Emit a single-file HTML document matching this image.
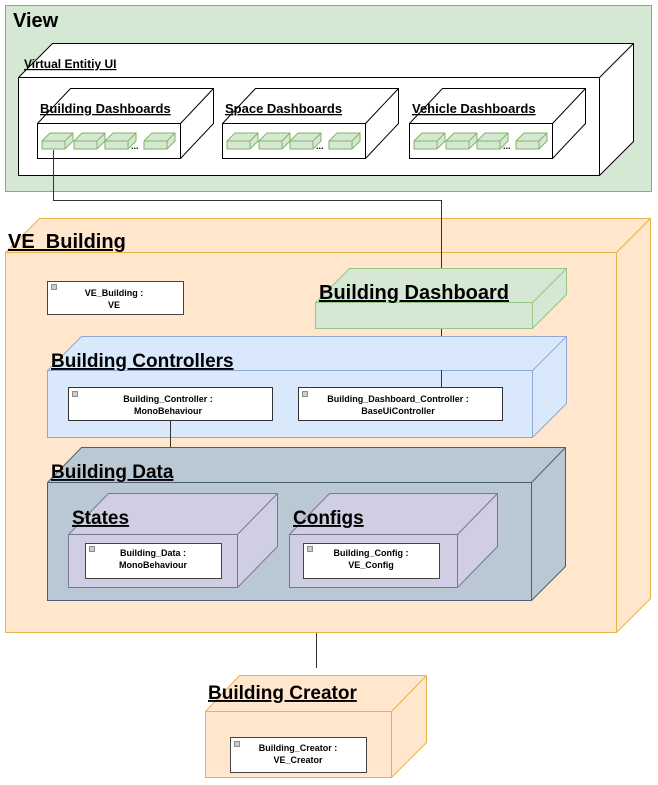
<!DOCTYPE html>
<html><head><meta charset="utf-8"><style>
html,body{margin:0;padding:0;background:#fff}
svg{display:block}
text{font-family:"Liberation Sans",Arial,sans-serif;font-weight:bold;fill:#000}
.t{text-decoration:underline}
</style></head><body>
<svg width="658" height="785" viewBox="0 0 658 785" xmlns="http://www.w3.org/2000/svg">
<defs>
<g id="cube">
<path d="M0,8 L8,0 L31,0 L31,8 L23,16 L0,16 Z" fill="#d5e8d4" stroke="#82b366" stroke-width="1"/>
<path d="M0,8 L23,8 L23,16 M23,8 L31,0" fill="none" stroke="#82b366" stroke-width="1"/>
</g>
</defs>
<rect x="5.5" y="5.5" width="646" height="186" fill="#d5e8d4" stroke="#82b366"/>
<text x="13" y="27" font-size="20">View</text>
<path d="M18.5,77.5 L52.5,43.5 L633.5,43.5 L633.5,141.5 L599.5,175.5 L18.5,175.5 Z" fill="#fff" stroke="#000"/>
<path d="M18.5,77.5 L599.5,77.5 L599.5,175.5 M599.5,77.5 L633.5,43.5" fill="none" stroke="#000"/>
<text x="24" y="68" font-size="12" class="t">Virtual Entitiy UI</text>
<g>
<path d="M37.5,123.5 L70.5,88.5 L213.5,88.5 L213.5,123.5 L180.5,158.5 L37.5,158.5 Z" fill="#fff" stroke="#000"/>
<path d="M37.5,123.5 L180.5,123.5 L180.5,158.5 M180.5,123.5 L213.5,88.5" fill="none" stroke="#000"/>
<text x="40" y="113" font-size="13" class="t">Building Dashboards</text>
<use href="#cube" x="42" y="133"/><use href="#cube" x="74" y="133"/><use href="#cube" x="105" y="133"/><use href="#cube" x="144" y="133"/>
<text x="131" y="149" font-size="9" font-weight="normal">...</text>
</g>
<g transform="translate(185,0)">
<path d="M37.5,123.5 L70.5,88.5 L213.5,88.5 L213.5,123.5 L180.5,158.5 L37.5,158.5 Z" fill="#fff" stroke="#000"/>
<path d="M37.5,123.5 L180.5,123.5 L180.5,158.5 M180.5,123.5 L213.5,88.5" fill="none" stroke="#000"/>
<text x="40" y="113" font-size="13" class="t">Space Dashboards</text>
<use href="#cube" x="42" y="133"/><use href="#cube" x="74" y="133"/><use href="#cube" x="105" y="133"/><use href="#cube" x="144" y="133"/>
<text x="131" y="149" font-size="9" font-weight="normal">...</text>
</g>
<g transform="translate(372,0)">
<path d="M37.5,123.5 L70.5,88.5 L213.5,88.5 L213.5,123.5 L180.5,158.5 L37.5,158.5 Z" fill="#fff" stroke="#000"/>
<path d="M37.5,123.5 L180.5,123.5 L180.5,158.5 M180.5,123.5 L213.5,88.5" fill="none" stroke="#000"/>
<text x="40" y="113" font-size="13" class="t">Vehicle Dashboards</text>
<use href="#cube" x="42" y="133"/><use href="#cube" x="74" y="133"/><use href="#cube" x="105" y="133"/><use href="#cube" x="144" y="133"/>
<text x="131" y="149" font-size="9" font-weight="normal">...</text>
</g>
<path d="M5.5,252.5 L39.5,218.5 L650.5,218.5 L650.5,598.5 L616.5,632.5 L5.5,632.5 Z" fill="#ffe6cc" stroke="#e8b34a"/>
<path d="M5.5,252.5 L616.5,252.5 L616.5,632.5 M616.5,252.5 L650.5,218.5" fill="none" stroke="#e8b34a"/>
<text x="8" y="248" font-size="20" class="t">VE_Building</text>
<path d="M53.5,150 L53.5,200.5 L441.5,200.5 L441.5,268 M441.5,328 L441.5,388 M170.5,420 L170.5,448 M316.5,633 L316.5,668" fill="none" stroke="#333"/>
<rect x="47.5" y="281.5" width="136" height="33" fill="#fff" stroke="#444"/>
<rect x="51.5" y="284.5" width="5" height="5" fill="#ccc" stroke="#666" stroke-width="0.7"/>
<text x="114" y="296" font-size="9" text-anchor="middle">VE_Building :</text>
<text x="114" y="308" font-size="9" text-anchor="middle">VE</text>
<path d="M315.5,302.5 L349.5,268.5 L566.5,268.5 L566.5,294.5 L532.5,328.5 L315.5,328.5 Z" fill="#d5e8d4" stroke="#97c487"/>
<path d="M315.5,302.5 L532.5,302.5 L532.5,328.5 M532.5,302.5 L566.5,268.5" fill="none" stroke="#97c487"/>
<text x="319" y="299" font-size="20" class="t">Building Dashboard</text>
<path d="M47.5,370.5 L81.5,336.5 L566.5,336.5 L566.5,403.5 L532.5,437.5 L47.5,437.5 Z" fill="#dae8fc" stroke="#8fa9d6"/>
<path d="M47.5,370.5 L532.5,370.5 L532.5,437.5 M532.5,370.5 L566.5,336.5" fill="none" stroke="#8fa9d6"/>
<text x="51" y="367" font-size="19" class="t">Building Controllers</text>
<line x1="441.5" y1="370" x2="441.5" y2="388" stroke="#333"/>
<rect x="68.5" y="387.5" width="204" height="33" fill="#fff" stroke="#333"/>
<rect x="72.5" y="391.5" width="5" height="5" fill="#ccc" stroke="#666" stroke-width="0.7"/>
<text x="168" y="402" font-size="9" text-anchor="middle">Building_Controller :</text>
<text x="168" y="414" font-size="9" text-anchor="middle">MonoBehaviour</text>
<rect x="298.5" y="387.5" width="204" height="33" fill="#fff" stroke="#333"/>
<rect x="302.5" y="391.5" width="5" height="5" fill="#ccc" stroke="#666" stroke-width="0.7"/>
<text x="398" y="402" font-size="9" text-anchor="middle">Building_Dashboard_Controller :</text>
<text x="398" y="414" font-size="9" text-anchor="middle">BaseUiController</text>
<line x1="170.5" y1="420" x2="170.5" y2="448" stroke="#333"/>
<path d="M47.5,482.5 L81.5,447.5 L565.5,447.5 L565.5,566.5 L531.5,600.5 L47.5,600.5 Z" fill="#bac8d3" stroke="#4a6070"/>
<path d="M47.5,482.5 L531.5,482.5 L531.5,600.5 M531.5,482.5 L565.5,447.5" fill="none" stroke="#4a6070"/>
<text x="51" y="478" font-size="19" class="t">Building Data</text>
<path d="M68.5,534.5 L108.5,493.5 L277.5,493.5 L277.5,546.5 L237.5,587.5 L68.5,587.5 Z" fill="#d0cee2" stroke="#7a7499"/>
<path d="M68.5,534.5 L237.5,534.5 L237.5,587.5 M237.5,534.5 L277.5,493.5" fill="none" stroke="#7a7499"/>
<text x="72" y="524" font-size="19" class="t">States</text>
<rect x="85.5" y="543.5" width="136" height="35" fill="#fff" stroke="#444"/>
<rect x="89.5" y="546.5" width="5" height="5" fill="#ccc" stroke="#666" stroke-width="0.7"/>
<text x="153" y="556" font-size="9" text-anchor="middle">Building_Data :</text>
<text x="153" y="568" font-size="9" text-anchor="middle">MonoBehaviour</text>
<path d="M289.5,534.5 L329.5,493.5 L497.5,493.5 L497.5,546.5 L457.5,587.5 L289.5,587.5 Z" fill="#d0cee2" stroke="#7a7499"/>
<path d="M289.5,534.5 L457.5,534.5 L457.5,587.5 M457.5,534.5 L497.5,493.5" fill="none" stroke="#7a7499"/>
<text x="293" y="524" font-size="19" class="t">Configs</text>
<rect x="303.5" y="543.5" width="136" height="35" fill="#fff" stroke="#444"/>
<rect x="307.5" y="546.5" width="5" height="5" fill="#ccc" stroke="#666" stroke-width="0.7"/>
<text x="371" y="556" font-size="9" text-anchor="middle">Building_Config :</text>
<text x="371" y="568" font-size="9" text-anchor="middle">VE_Config</text>
<path d="M205.5,711.5 L239.5,675.5 L426.5,675.5 L426.5,742.5 L391.5,777.5 L205.5,777.5 Z" fill="#ffe6cc" stroke="#e8b34a"/>
<path d="M205.5,711.5 L391.5,711.5 L391.5,777.5 M391.5,711.5 L426.5,675.5" fill="none" stroke="#e8b34a"/>
<text x="208" y="699" font-size="19" class="t">Building Creator</text>
<rect x="230.5" y="737.5" width="136" height="35" fill="#fff" stroke="#444"/>
<rect x="234.5" y="741.5" width="5" height="5" fill="#ccc" stroke="#666" stroke-width="0.7"/>
<text x="298" y="751" font-size="9" text-anchor="middle">Building_Creator :</text>
<text x="298" y="763" font-size="9" text-anchor="middle">VE_Creator</text>
</svg>
</body></html>
